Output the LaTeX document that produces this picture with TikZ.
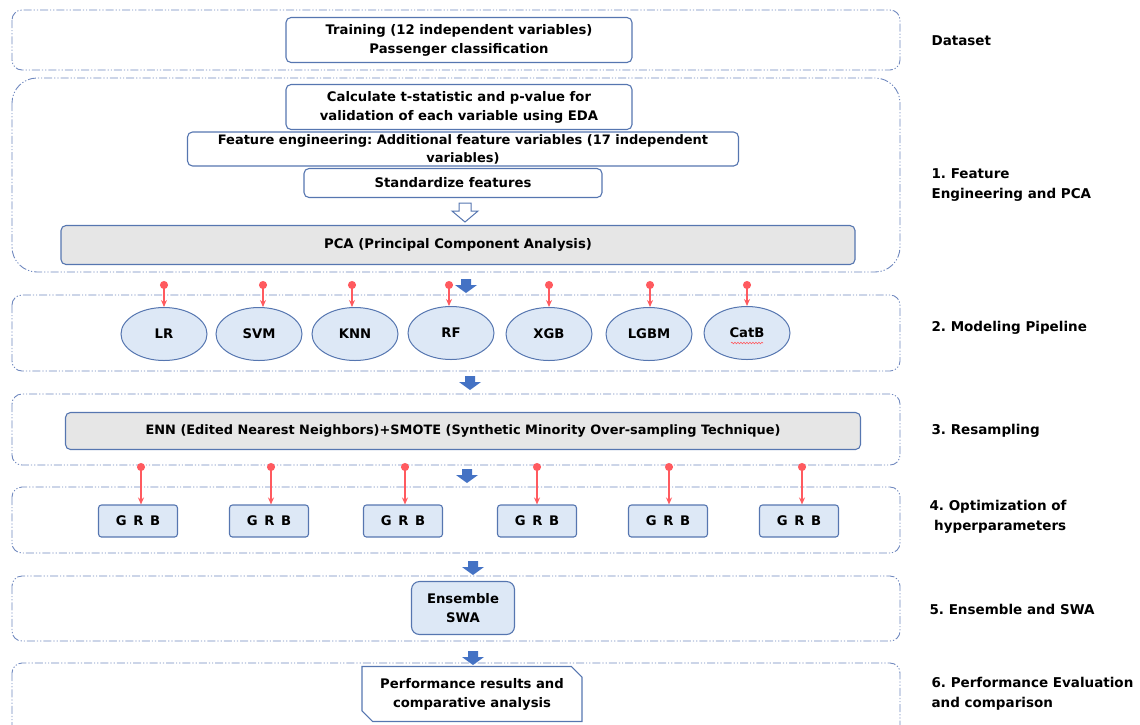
\documentclass[tikz,border=0pt]{standalone}
\usepackage{fontspec}
\setmainfont{DejaVu Sans}
\usetikzlibrary{arrows.meta,shapes.geometric,shapes.misc,decorations.pathmorphing}
\definecolor{framecol}{HTML}{6F88BE}
\definecolor{boxline}{HTML}{5676B0}
\definecolor{lightblue}{HTML}{DDE8F6}
\definecolor{boxgray}{HTML}{E6E6E6}
\definecolor{pinred}{HTML}{FF5A5F}
\definecolor{arrowblue}{HTML}{4472C4}
\frenchspacing
\tikzset{
	frame/.style={draw=framecol, line width=0.9pt, rounded corners=10pt,
		dash pattern=on 8pt off 2pt on 1.2pt off 2pt on 1.2pt off 2pt},
	box/.style={draw=boxline, line width=1.1pt, rounded corners=5pt, fill=white,
		align=center, inner sep=0pt},
	graybox/.style={box, fill=boxgray},
	model/.style={ellipse, draw=boxline, line width=1pt, fill=lightblue,
		minimum width=86pt, minimum height=53pt, inner sep=0pt},
	grb/.style={box, fill=lightblue, rounded corners=3pt, minimum width=79pt, minimum height=32pt},
	pin/.style={draw=pinred, line width=1.5pt, {Circle[length=8pt]}-{Stealth[length=7pt,width=6pt]}},
	steplabel/.style={anchor=west, align=left, font=\bfseries\frenchspacing\fontsize{13.5}{20}\selectfont},
	blockdown/.pic={\fill[arrowblue] (-5,0) -- (5,0) -- (5,6) -- (11,6) -- (0,14) -- (-11,6) -- (-5,6) -- cycle;},
	hollowdown/.pic={\draw[boxline, fill=white, line width=1pt] (-6,0) -- (6,0) -- (6,8) -- (13,8) -- (0,19) -- (-13,8) -- (-6,8) -- cycle;}
}
\begin{document}
\begin{tikzpicture}[x=1pt, y=-1pt, font=\bfseries\frenchspacing\fontsize{13.2}{19}\selectfont]
	\useasboundingbox (0,0) rectangle (1140,724);
	% riquadri
	\draw[frame] (12,10) rectangle (900,70);
	\draw[frame, rounded corners=25pt] (12,78) rectangle (900,272);
	\draw[frame] (12,295) rectangle (900,371);
	\draw[frame] (12,394) rectangle (900,465);
	\draw[frame] (12,487) rectangle (900,553);
	\draw[frame] (12,576) rectangle (900,641);
	\draw[frame] (12,663) rectangle (900,745);
	% dataset e feature
	\node[box, minimum width=346pt, minimum height=45pt] (train) at (459,40) {Training (12 independent variables)\\Passenger classification};
	\node[box, minimum width=346pt, minimum height=45pt] (calc) at (459,107) {Calculate t-statistic and p-value for\\validation of each variable using EDA};
	\node[box, minimum width=551pt, minimum height=34pt, font=\bfseries\fontsize{13}{18}\selectfont] (feng) at (463,149) {Feature engineering: Additional feature variables (17 independent\\variables)};
	\node[box, minimum width=298pt, minimum height=29pt] (std) at (453,183) {Standardize features};
	\pic at (465,203) {hollowdown};
	\node[graybox, minimum width=794pt, minimum height=39pt] (pca) at (458,245) {PCA (Principal Component Analysis)};
	% modelli
	\node[model] (lr) at (164,334) {LR};
	\node[model] (svm) at (259,334) {SVM};
	\node[model] (knn) at (355,334) {KNN};
	\node[model] (rf) at (451,333) {RF};
	\node[model] (xgb) at (549,334) {XGB};
	\node[model] (lgbm) at (649,334) {LGBM};
	\node[model] (catb) at (747,333) {CatB};
	\draw[pinred, line width=0.6pt, decorate, decoration={snake, amplitude=0.8pt, segment length=3pt}] (731,343) -- (763,343);
	\coordinate (p1) at (164,281);
	\coordinate (p2) at (263,281);
	\coordinate (p3) at (352,281);
	\coordinate (p4) at (449,281);
	\coordinate (p5) at (549,281);
	\coordinate (p6) at (650,281);
	\coordinate (p7) at (747,281);
	\draw[pin] (p1) -- (lr);
	\draw[pin] (p2) -- (p2 |- svm.north);
	\draw[pin] (p3) -- (p3 |- knn.north);
	\draw[pin] (p4) -- (p4 |- rf.north);
	\draw[pin] (p5) -- (xgb);
	\draw[pin] (p6) -- (p6 |- lgbm.north);
	\draw[pin] (p7) -- (catb);
	% resampling
	\node[graybox, minimum width=795pt, minimum height=37pt, font=\bfseries\frenchspacing\fontsize{12.9}{19}\selectfont] (enn) at (463,431) {ENN (Edited Nearest Neighbors)+SMOTE (Synthetic Minority Over-sampling Technique)};
	% ottimizzazione
	\node[grb] (g1) at (138,521) {G\enspace R\enspace B};
	\node[grb] (g2) at (269,521) {G\enspace R\enspace B};
	\node[grb] (g3) at (403,521) {G\enspace R\enspace B};
	\node[grb] (g4) at (537,521) {G\enspace R\enspace B};
	\node[grb] (g5) at (668,521) {G\enspace R\enspace B};
	\node[grb] (g6) at (799,521) {G\enspace R\enspace B};
	\coordinate (q1) at (141,463);
	\coordinate (q2) at (271,463);
	\coordinate (q3) at (405,463);
	\coordinate (q4) at (537,463);
	\coordinate (q5) at (669,463);
	\coordinate (q6) at (802,463);
	\draw[pin] (q1) -- (q1 |- g1.north);
	\draw[pin] (q2) -- (q2 |- g2.north);
	\draw[pin] (q3) -- (q3 |- g3.north);
	\draw[pin] (q4) -- (q4 |- g4.north);
	\draw[pin] (q5) -- (q5 |- g5.north);
	\draw[pin] (q6) -- (q6 |- g6.north);
	% ensemble e risultati
	\node[box, fill=lightblue, rounded corners=8pt, minimum width=103pt, minimum height=53pt] (ens) at (463,608) {Ensemble\\SWA};
	\node[chamfered rectangle, chamfered rectangle corners={north east,south west}, chamfered rectangle xsep=7pt,
		draw=boxline, line width=1.1pt, align=center, inner sep=0pt, minimum width=220pt, minimum height=55pt] (perf) at (472,694) {Performance results and\\comparative analysis};
	% frecce blu
	\pic at (466,279) {blockdown};
	\pic at (470,376) {blockdown};
	\pic at (467,469) {blockdown};
	\pic at (473,561) {blockdown};
	\pic at (473,651) {blockdown};
	% etichette
	\node[steplabel] (l0) at (928,41) {Dataset};
	\node[steplabel] (l1) at (928,185) {1. Feature\\Engineering and PCA};
	\node[steplabel] (l2) at (928,328) {2. Modeling Pipeline};
	\node[steplabel] (l3) at (928,431) {3. Resampling};
	\node[steplabel] (l4) at (926,517) {4. Optimization of\\\ hyperparameters};
	\node[steplabel] (l5) at (926,609) {5. Ensemble and SWA};
	\node[steplabel] (l6) at (928,694) {6. Performance Evaluation\\and comparison};
\end{tikzpicture}
\end{document}
